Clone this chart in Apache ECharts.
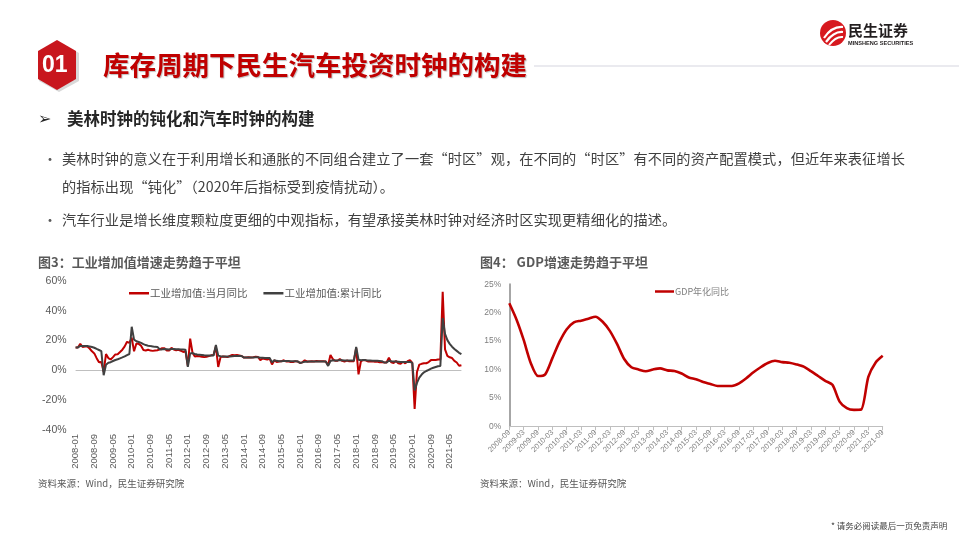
<!DOCTYPE html>
<html><head><meta charset="utf-8">
<script src="https://cdn.jsdelivr.net/npm/echarts@6/dist/echarts.min.js"></script>
<style>
html,body{margin:0;padding:0;background:#fff;width:959px;height:539px;overflow:hidden;font-family:"Noto Sans CJK SC","Liberation Sans",sans-serif;}
#chart{position:absolute;left:0;top:0;width:959px;height:539px;}
.t{position:absolute;white-space:nowrap;}
</style></head><body>
<div id="chart"></div>
<svg class="t" style="left:0;top:0" width="959" height="100">
  <polygon points="59,42 79,53 79,81 59,92 39,81 39,53" fill="#d9d9d9"/>
  <polygon points="57,40 76,51 76,79 57,90 38,79 38,51" fill="#c8161d"/>
  <line x1="534" y1="66" x2="959" y2="66" stroke="#e3e3ea" stroke-width="1.5"/>
  <circle cx="833" cy="33" r="13" fill="#d7191f"/>
  <path d="M824,38 Q832,26 843,27" stroke="#fff" stroke-width="2.2" fill="none"/>
  <path d="M826,42 Q834,31 843,32" stroke="#fff" stroke-width="2.2" fill="none"/>
  <path d="M829,45 Q836,36 843,37" stroke="#fff" stroke-width="2" fill="none"/>
</svg>
<div class="t" style="left:42px;top:49px;color:#fff;font-weight:bold;font-size:23px;line-height:30px;font-family:'Liberation Sans',sans-serif;">01</div>
<div class="t" style="left:103px;top:47px;color:#c00000;font-weight:bold;font-size:26.5px;line-height:34px;text-shadow:1px 1px 1px rgba(0,0,0,0.25);">库存周期下民生汽车投资时钟的构建</div>
<div class="t" style="left:848px;top:21px;color:#231f20;font-weight:bold;font-size:15px;line-height:18px;">民生证券</div>
<div class="t" style="left:848px;top:40px;color:#231f20;font-weight:bold;font-size:5.6px;line-height:7px;font-family:'Liberation Sans',sans-serif;">MINSHENG SECURITIES</div>
<div class="t" style="left:38px;top:106px;color:#262626;font-size:16px;line-height:22px;">➢</div>
<div class="t" style="left:67px;top:106px;color:#262626;font-weight:bold;font-size:16.5px;line-height:24px;">美林时钟的钝化和汽车时钟的构建</div>
<div class="t" style="left:43px;top:147px;color:#595959;font-size:14px;line-height:22px;">•</div>
<div class="t" style="left:62px;top:147px;color:#404040;font-size:14.2px;line-height:22px;letter-spacing:0.1px;">美林时钟的意义在于利用增长和通胀的不同组合建立了一套“时区”观，在不同的“时区”有不同的资产配置模式，但近年来表征增长</div>
<div class="t" style="left:62px;top:175px;color:#404040;font-size:14.2px;line-height:22px;letter-spacing:0.1px;">的指标出现“钝化”（2020年后指标受到疫情扰动）。</div>
<div class="t" style="left:43px;top:208px;color:#595959;font-size:14px;line-height:22px;">•</div>
<div class="t" style="left:62px;top:208px;color:#404040;font-size:14.2px;line-height:22px;letter-spacing:0.1px;">汽车行业是增长维度颗粒度更细的中观指标，有望承接美林时钟对经济时区实现更精细化的描述。</div>
<div class="t" style="left:38px;top:253px;color:#595959;font-weight:bold;font-size:13px;line-height:18px;">图3：工业增加值增速走势趋于平坦</div>
<div class="t" style="left:480px;top:253px;color:#595959;font-weight:bold;font-size:13px;line-height:18px;">图4： GDP增速走势趋于平坦</div>
<div class="t" style="left:38px;top:476px;color:#595959;font-size:9.5px;line-height:14px;">资料来源：Wind，民生证券研究院</div>
<div class="t" style="left:480px;top:476px;color:#595959;font-size:9.5px;line-height:14px;">资料来源：Wind，民生证券研究院</div>
<div class="t" style="left:831px;top:519px;color:#404040;font-size:8.5px;line-height:12px;">* 请务必阅读最后一页免责声明</div>
<script>
// ---- Figure 3: industrial value added (monthly, 2008-01 .. 2021-10)
const ivaStartYear = 2008;
const ivaMonthlyYoY = [
  15.4,15.4,17.8,15.7,16.0,16.0,14.7,12.8,11.4,8.2,5.4,5.7,
  -1.0,11.0,8.3,7.3,8.9,10.7,10.8,12.3,13.9,16.1,19.2,18.5,
  22.0,12.8,18.1,17.8,16.5,13.7,13.4,13.9,13.3,13.1,13.3,13.5,
  14.1,14.9,14.8,13.4,13.3,15.1,14.0,13.5,13.8,13.2,12.4,12.8,
  3.0,21.3,11.9,9.3,9.6,9.5,9.2,8.9,9.2,9.6,10.1,10.3,
  16.0,2.3,8.9,9.3,9.2,8.9,9.7,10.4,10.2,10.3,10.0,9.7,
  8.6,8.6,8.8,8.7,8.8,9.2,9.0,6.9,8.0,7.7,7.2,7.9,
  4.0,6.8,5.6,5.9,6.1,6.8,6.0,6.1,5.7,5.6,6.2,5.9,
  5.0,5.4,6.8,6.0,6.0,6.2,6.0,6.3,6.1,6.1,6.2,6.0,
  3.5,10.3,7.6,6.5,6.5,7.6,6.4,6.0,6.6,6.2,6.1,6.2,
  15.0,-2.7,6.0,7.0,6.8,6.0,6.0,6.1,5.8,5.9,5.4,5.7,
  5.3,5.3,8.5,5.4,5.0,6.3,4.8,4.4,5.8,4.7,6.2,6.9,
  5.0,-25.9,-1.1,3.9,4.4,4.8,4.8,5.6,6.9,6.9,7.0,7.3,
  7.3,52.7,14.1,9.8,8.8,8.3,6.4,5.3,3.1,3.5
];
const ivaCumulativeYoY = [
  15.4,15.4,16.4,16.3,16.3,16.3,16.1,15.7,15.2,14.4,13.7,12.9,
  -3.2,3.8,5.1,5.5,6.3,7.0,7.5,8.1,8.7,9.4,10.3,11.0,
  29.3,20.7,19.6,19.1,18.5,17.6,17.0,16.6,16.3,16.1,15.8,15.7,
  14.1,14.1,14.4,14.2,14.0,14.3,14.3,14.2,14.2,14.1,14.0,13.9,
  2.4,11.4,11.6,11.0,10.7,10.5,10.3,10.1,10.0,10.0,10.0,10.0,
  17.0,9.9,9.5,9.4,9.4,9.3,9.4,9.5,9.6,9.7,9.7,9.7,
  8.6,8.6,8.7,8.7,8.7,8.8,8.8,8.5,8.5,8.4,8.3,8.3,
  5.4,6.8,6.4,6.2,6.2,6.3,6.3,6.3,6.2,6.1,6.1,6.1,
  5.0,5.4,5.8,5.8,5.9,6.0,6.0,6.0,6.0,6.0,6.0,6.0,
  3.0,6.3,6.8,6.7,6.7,6.9,6.8,6.7,6.7,6.7,6.6,6.6,
  15.8,7.2,6.8,6.9,6.9,6.7,6.6,6.5,6.4,6.4,6.3,6.2,
  5.3,5.3,6.5,6.2,6.0,6.0,5.8,5.6,5.6,5.6,5.6,5.7,
  5.0,-13.5,-8.4,-4.9,-2.8,-1.3,-0.4,0.4,1.2,1.8,2.3,2.8,
  3.0,35.1,24.5,20.3,17.8,15.9,14.4,13.1,11.8,10.9
];
const ivaSeriesNames = ['工业增加值:当月同比','工业增加值:累计同比'];
const ivaYTicks = [-40,-20,0,20,40,60];

// ---- Figure 4: GDP (quarterly, 2008-09 .. 2021-09)
const gdpStart = [2008, 9];
const gdpYoY = [
  21.65,18.8,15.2,11.1,8.85,9.15,12.0,14.9,17.1,18.3,
  18.6,18.95,19.3,18.4,16.8,14.5,11.85,10.4,10.0,9.7,
  10.0,10.2,9.85,9.75,9.3,8.6,8.3,7.8,7.45,7.1,
  7.1,7.1,7.55,8.45,9.5,10.4,11.15,11.55,11.3,11.2,
  10.9,10.5,9.7,8.85,8.0,7.3,4.35,3.2,2.9,2.95,
  8.7,11.2,12.4
];
const gdpSeriesName = 'GDP年化同比';
const gdpYTicks = [0,5,10,15,20,25];

const pad = n => (n < 10 ? '0' : '') + n;
const ivaMonths = ivaMonthlyYoY.map((_, i) => (ivaStartYear + Math.floor(i / 12)) + '-' + pad(i % 12 + 1));
const gdpQuarters = gdpYoY.map((_, i) => {
  const m = gdpStart[1] - 1 + i * 3;
  return (gdpStart[0] + Math.floor(m / 12)) + '-' + pad(m % 12 + 1);
});

const FONT = '"Liberation Sans","Noto Sans CJK SC",sans-serif';
const chart = echarts.init(document.getElementById('chart'), null, {renderer: 'canvas'});
const tr = 'rgba(0,0,0,0)';
chart.setOption({
  animation: false,
  textStyle: {fontFamily: FONT},
  grid: [
    {left: 75.6, top: 281, width: 385.8, height: 149, containLabel: false},
    {left: 509.3, top: 284.3, width: 373.4, height: 142, containLabel: false}
  ],
  legend: [
    {data: ivaSeriesNames, left: 124, top: 283, icon: 'rect', itemWidth: 20, itemHeight: 2.5, itemGap: 16,
     textStyle: {fontSize: 10.5, color: '#595959', fontFamily: '"Noto Sans CJK SC",sans-serif', padding: [0,0,0,-4]}},
    {data: [gdpSeriesName], left: 650, top: 282, icon: 'rect', itemWidth: 19, itemHeight: 2.5,
     textStyle: {fontSize: 9, color: '#7f7f7f', fontFamily: '"Noto Sans CJK SC",sans-serif', padding: [0,0,0,-4]}}
  ],
  xAxis: [
    {gridIndex: 0, type: 'category', data: ivaMonths, boundaryGap: false,
     axisLine: {show: false, onZero: false}, axisTick: {show: false},
     axisLabel: {rotate: 90, interval: 7, fontSize: 9.5, color: '#595959', margin: 4, fontFamily: FONT}},
    {gridIndex: 1, type: 'category', data: gdpQuarters, boundaryGap: false,
     axisLine: {show: true, lineStyle: {color: '#bfbfbf', width: 1}},
     axisTick: {show: true, interval: 1, length: 4, lineStyle: {color: '#bfbfbf'}},
     axisLabel: {rotate: 45, interval: 1, fontSize: 7.6, color: '#808080', margin: 5, fontFamily: FONT}}
  ],
  yAxis: [
    {gridIndex: 0, type: 'value', min: ivaYTicks[0], max: ivaYTicks[ivaYTicks.length - 1], interval: 20,
     axisLine: {show: false}, axisTick: {show: false},
     axisLabel: {formatter: '{value}%', fontSize: 10.5, color: '#595959', margin: 9, fontFamily: FONT},
     splitLine: {show: true, lineStyle: {color: ivaYTicks.map(v => v === 0 ? '#bfbfbf' : tr), width: 1}}},
    {gridIndex: 1, type: 'value', min: gdpYTicks[0], max: gdpYTicks[gdpYTicks.length - 1], interval: 5,
     axisLine: {show: true, lineStyle: {color: '#a6a6a6', width: 2}}, axisTick: {show: false},
     axisLabel: {formatter: '{value}%', fontSize: 8.5, color: '#7f7f7f', margin: 8, fontFamily: FONT},
     splitLine: {show: false}}
  ],
  series: [
    {name: ivaSeriesNames[0], type: 'line', xAxisIndex: 0, yAxisIndex: 0, data: ivaMonthlyYoY,
     symbol: 'none', lineStyle: {color: '#c00000', width: 2}, itemStyle: {color: '#c00000'}},
    {name: ivaSeriesNames[1], type: 'line', xAxisIndex: 0, yAxisIndex: 0, data: ivaCumulativeYoY,
     symbol: 'none', lineStyle: {color: '#404040', width: 2}, itemStyle: {color: '#404040'}},
    {name: gdpSeriesName, type: 'line', xAxisIndex: 1, yAxisIndex: 1, data: gdpYoY, smooth: 0.25,
     symbol: 'none', lineStyle: {color: '#c00000', width: 2.6}, itemStyle: {color: '#c00000'}}
  ]
});
</script>
</body></html>
